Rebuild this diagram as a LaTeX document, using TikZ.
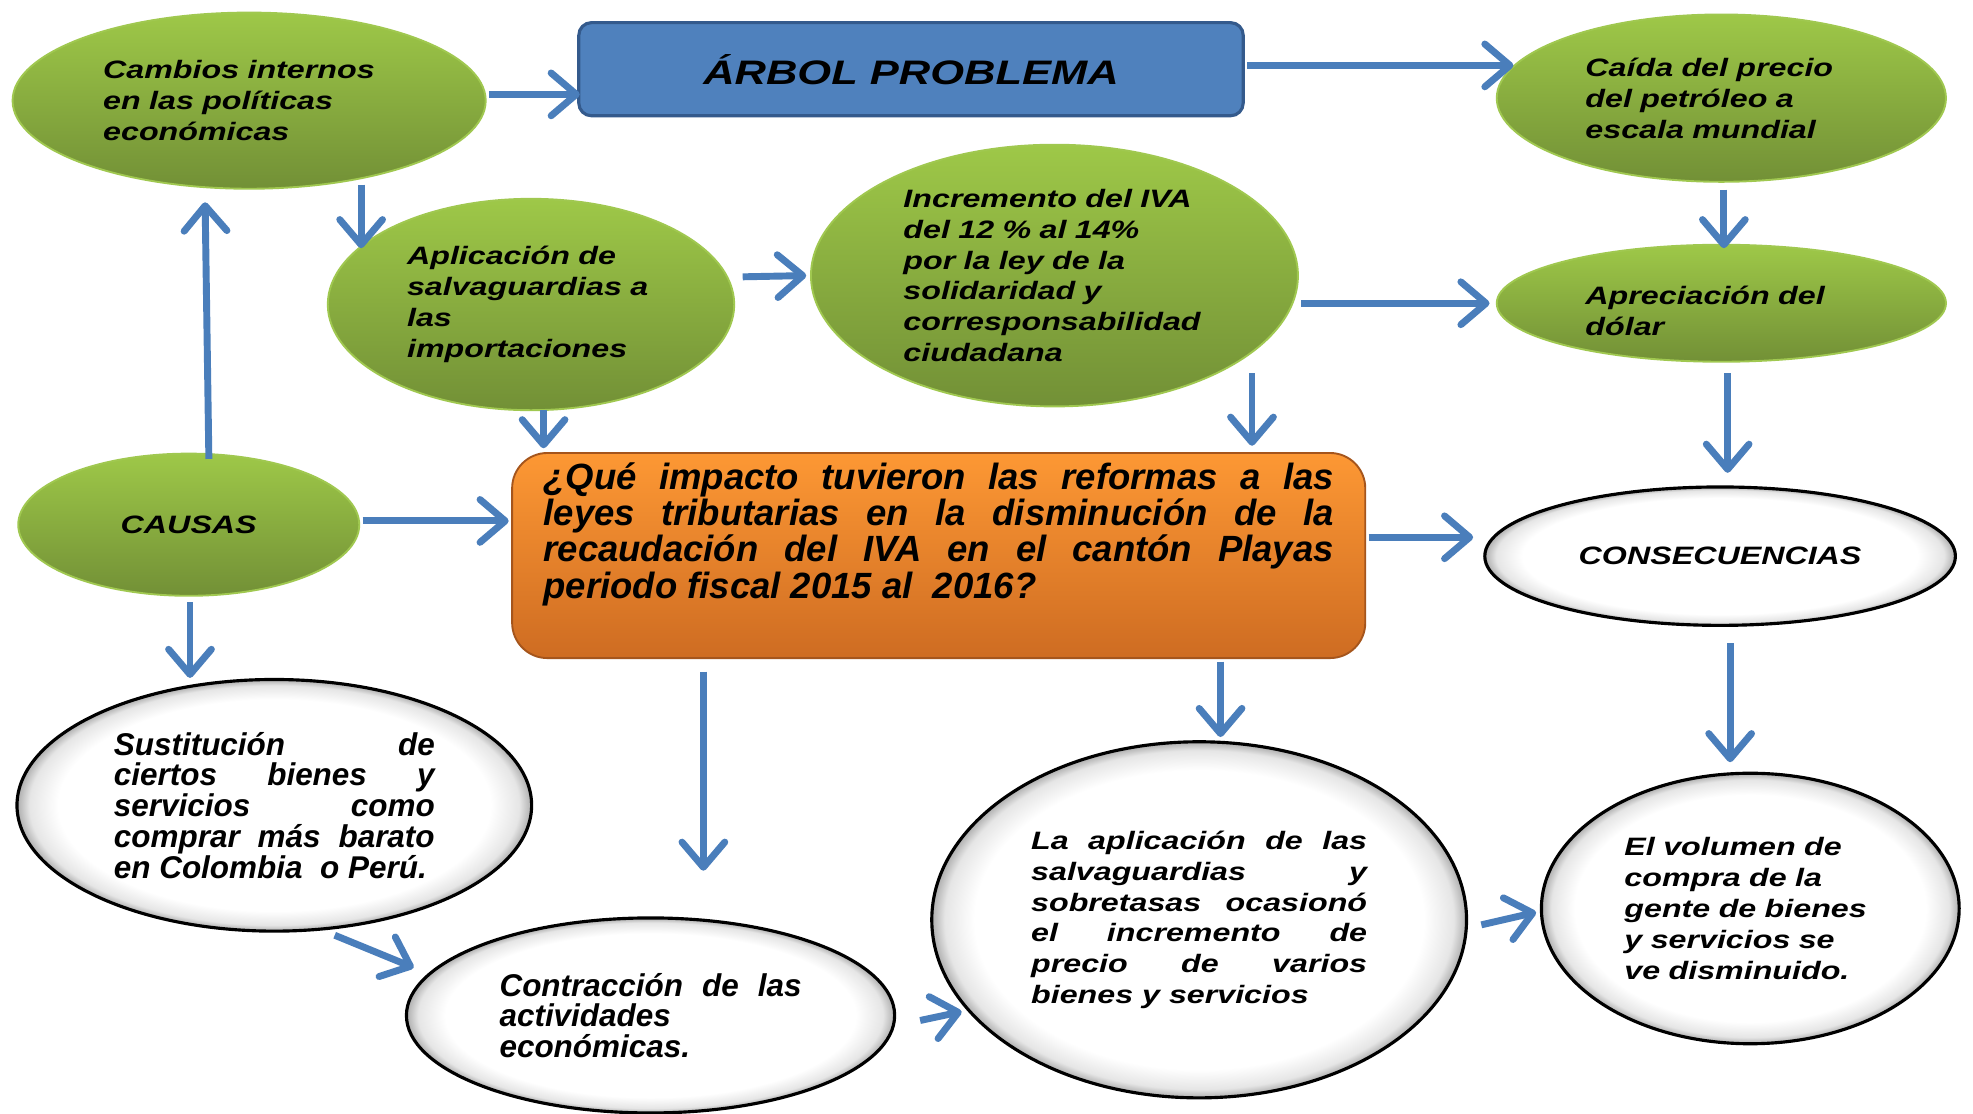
\documentclass[tikz,border=0pt]{standalone}
\usepackage{fontspec}
\newfontfamily\fmain[FakeStretch=1.28]{Liberation Sans}
\newfontfamily\fnarrow[FakeStretch=1.0]{Liberation Sans}
\usetikzlibrary{arrows.meta,calc,shapes.geometric}

\definecolor{arrowblue}{RGB}{74,126,187}
\definecolor{gtop}{RGB}{158,200,72}
\definecolor{gbot}{RGB}{114,144,54}
\definecolor{gedge}{RGB}{160,200,80}
\definecolor{boxblue}{RGB}{79,129,189}
\definecolor{boxblueedge}{RGB}{52,90,140}
\definecolor{otop}{RGB}{253,152,52}
\definecolor{obot}{RGB}{206,108,34}
\definecolor{oedge}{RGB}{165,85,28}

% central 50bp square of a shading is fitted to the path: radius 25bp = ellipse border
\pgfdeclareradialshading{rimwhite}{\pgfpoint{0bp}{0bp}}{color(0bp)=(white); color(21bp)=(white); color(23.8bp)=(black!10); color(25bp)=(black!32); color(50bp)=(black!32)}

\newcommand{\fsmain}{\fmain\bfseries\itshape\fontsize{20}{24.5}\selectfont}
\newcommand{\fsnarrow}{\fnarrow\bfseries\itshape\fontsize{25}{24.5}\selectfont}

\tikzset{
  greenell/.style={ellipse, draw=gedge, line width=1.5pt, top color=gtop, bottom color=gbot,
    inner sep=0pt, font=\fsmain, align=left},
  whiteell/.style={ellipse, draw=black, line width=2.5pt, shading=rimwhite,
    inner sep=0pt, align=left},
  conn/.style={draw=arrowblue, line width=5.5pt, -{Straight Barb[length=20pt,width=34pt,round]}},
}

\begin{document}
\begin{tikzpicture}[x=1pt,y=-1pt]
\useasboundingbox (0,0) rectangle (1568,885);
\fill[white] (0,0) rectangle (1568,885);

% green causes
\node[greenell, minimum width=376pt, minimum height=140pt, text width=232pt] (E1) at (198,80)
  {Cambios internos\\en las políticas\\económicas};
\node[greenell, minimum width=357pt, minimum height=133pt, text width=216pt] (E2) at (1368,78)
  {Caída del precio\\del petróleo a\\escala mundial};
\node[greenell, minimum width=323pt, minimum height=168pt, text width=197pt] (E3) at (422,242)
  {Aplicación de\\salvaguardias a\\las\\importaciones};
\node[greenell, minimum width=387pt, minimum height=208pt, text width=240pt] (E4) at (838,219)
  {Incremento del IVA\\del 12 \% al 14\%\\por la ley de la\\solidaridad y\\corresponsabilidad\\ciudadana};
\node[greenell, minimum width=357pt, minimum height=93pt, text width=216pt, text depth=12pt] (E5) at (1368,241)
  {Apreciación del\\dólar};
\node[greenell, minimum width=271pt, minimum height=113pt] (E6) at (150,417)
  {CAUSAS};

% title box
\node[rectangle, rounded corners=10pt, fill=boxblue, draw=boxblueedge, line width=2.5pt,
  minimum width=528pt, minimum height=74pt, font=\fmain\bfseries\itshape\fontsize{27}{30}\selectfont]
  (blue) at (724,55) {ÁRBOL PROBLEMA};

% central question
\node[rectangle, rounded corners=28pt, top color=otop, bottom color=obot, draw=oedge, line width=1.5pt,
  minimum width=678pt, minimum height=163pt, inner sep=0pt, align=left, text depth=40pt,
  font=\fnarrow\bfseries\itshape\fontsize{29}{29}\selectfont]
  (orange) at (746,441.5)
  {\makebox[628pt][s]{¿Qué impacto tuvieron las reformas a las}\\
   \makebox[628pt][s]{leyes tributarias en la disminución de la}\\
   \makebox[628pt][s]{recaudación del IVA en el cantón Playas}\\
   periodo fiscal 2015 al~~2016?};

% white consequences
\node[whiteell, minimum width=374pt, minimum height=110pt, font=\fsmain] (E7) at (1367,442)
  {CONSECUENCIAS};
\node[whiteell, minimum width=409pt, minimum height=200pt, font=\fsnarrow] (E8) at (218,640)
  {\makebox[255pt][s]{Sustitución de}\\
   \makebox[255pt][s]{ciertos bienes y}\\
   \makebox[255pt][s]{servicios como}\\
   \makebox[255pt][s]{comprar más barato}\\
   en Colombia~~o Perú.};
\node[whiteell, minimum width=388pt, minimum height=155pt, font=\fsnarrow] (E9) at (517,807)
  {\makebox[240pt][s]{Contracción de las}\\actividades\\económicas.};
\node[whiteell, minimum width=425pt, minimum height=283pt, font=\fsmain] (E10) at (953,731)
  {\makebox[267pt][s]{La aplicación de las}\\
   \makebox[267pt][s]{salvaguardias y}\\
   \makebox[267pt][s]{sobretasas ocasionó}\\
   \makebox[267pt][s]{el incremento de}\\
   \makebox[267pt][s]{precio de varios}\\
   bienes y servicios};
\node[whiteell, minimum width=332pt, minimum height=215pt, text width=200pt, font=\fsmain] (E11) at (1391,722)
  {El volumen de\\compra de la\\gente de bienes\\y servicios se\\ve disminuido.};

\coordinate (free) at (559,692);

% connectors
\draw[conn] ([shift={(2,-5)}]E1.east) -- ([shift={(2,20)}]blue.west);
\draw[conn] ([shift={(2,-3)}]blue.east) -- ([shift={(14,-26)}]E2.west);
\draw[conn] ([shift={(89,-4)}]E1.south) -- ([shift={(-135,40)}]E3.north);
\draw[conn] ([shift={(16,5)}]E6.north) -- ([shift={(-35,10)}]E1.south);
\draw[conn] ([shift={(6,-22)}]E3.east) -- ([shift={(-3,0)}]E4.west);
\draw[conn] ([shift={(2,22)}]E4.east) -- ([shift={(-5,0)}]E5.west);
\draw[conn] ([shift={(2,5.5)}]E2.south) -- ([shift={(2,3.5)}]E5.north);
\draw[conn] ([shift={(10,-1)}]E3.south) -- ([shift={(-314,-3)}]orange.north);
\draw[conn] ([shift={(157,-27)}]E4.south) -- ([shift={(249,-5)}]orange.north);
\draw[conn] ([shift={(5,8.5)}]E5.south) -- ([shift={(6,-10)}]E7.north);
\draw[conn] ([shift={(2,-3)}]E6.east) -- ([shift={(-2,-27.5)}]orange.west);
\draw[conn] ([shift={(2,-14.5)}]orange.east) -- ([shift={(-8,-15)}]E7.west);
\draw[conn] ([shift={(1,4.5)}]E6.south) -- ([shift={(-67,0)}]E8.north);
\draw[conn] ([shift={(-187,10)}]orange.south) -- (free);
\draw[conn] ([shift={(224,2)}]orange.south) -- ([shift={(17,-2.5)}]E10.north);
\draw[conn] ([shift={(8,13)}]E7.south) -- ([shift={(-16,-7.5)}]E11.north);
\draw[conn] ([shift={(48,2)}]E8.south) -- ([shift={(7,-38)}]E9.west);
\draw[conn] ([shift={(19,4)}]E9.east) -- ([shift={(25,73)}]E10.west);
\draw[conn] ([shift={(10.5,4)}]E10.east) -- ([shift={(-3,3)}]E11.west);
\end{tikzpicture}
\end{document}
